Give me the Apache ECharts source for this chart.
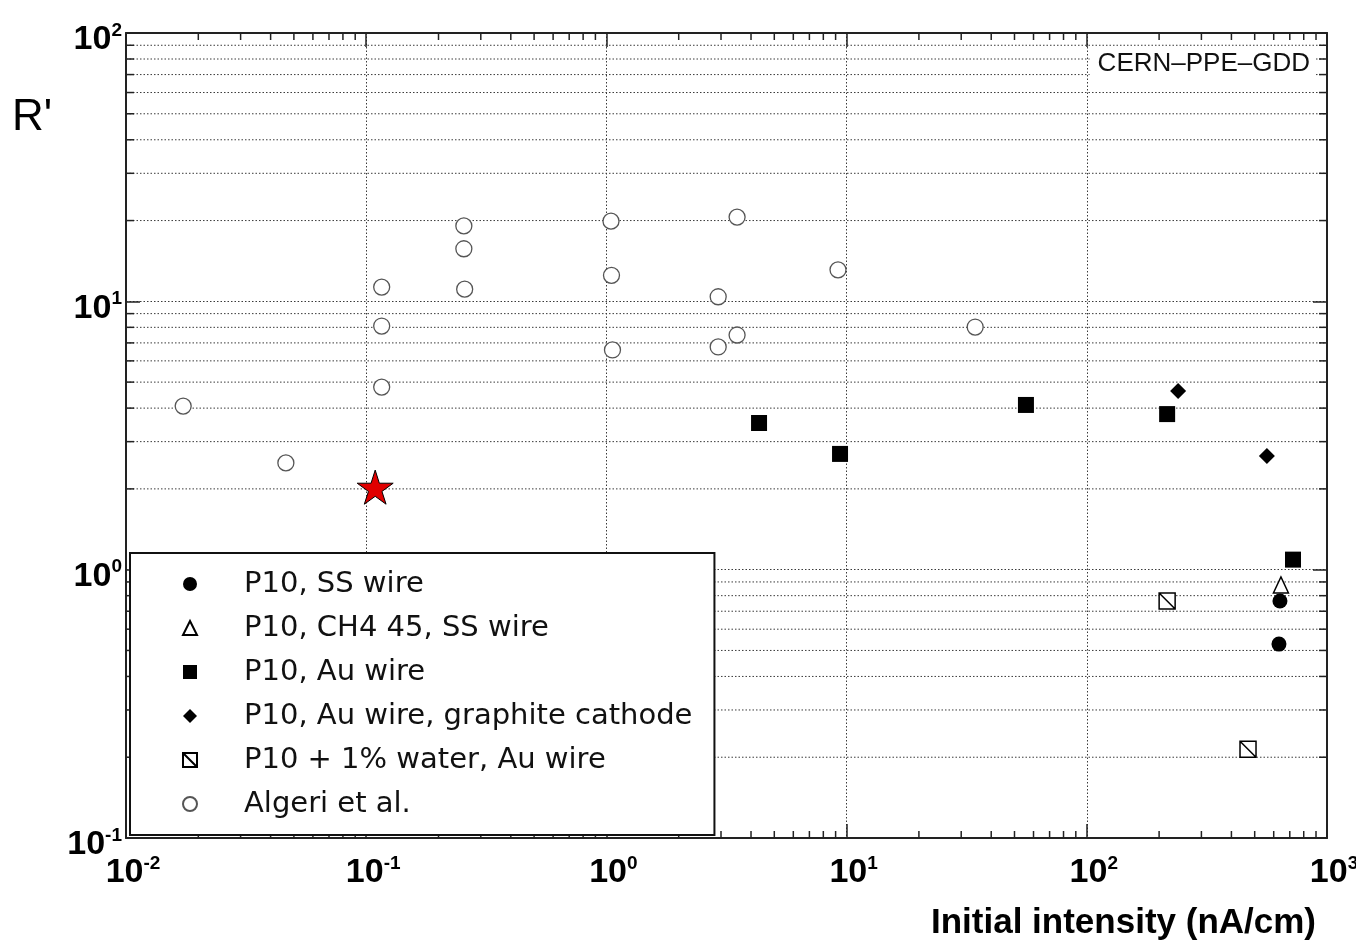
<!DOCTYPE html>
<html>
<head>
<meta charset="utf-8">
<script src="https://cdn.jsdelivr.net/npm/echarts@6/dist/echarts.min.js"></script>
<style>
  html, body { margin: 0; padding: 0; background: #fff; }
  #chart { width: 1356px; height: 943px; }
</style>
</head>
<body>
<div id="chart"></div>
<script>
// values: [initial intensity (nA/cm), R']
var ssWire = [[637, 0.764], [631, 0.528]];
var ch4Wire = [[643, 0.877]];
var auWire = [[4.32, 3.52], [9.39, 2.70], [55.8, 4.11], [216, 3.80], [722, 1.09]];
var graphiteCathode = [[240, 4.63], [562, 2.65]];
var waterAu = [[216, 0.764], [469, 0.214]];
var algeri = [
  [0.0173, 4.07], [0.0463, 2.50],
  [0.116, 11.3], [0.116, 8.09], [0.116, 4.79],
  [0.255, 19.1], [0.255, 15.7], [0.257, 11.1],
  [1.045, 19.9], [1.05, 12.5], [1.06, 6.59],
  [2.92, 10.4], [2.92, 6.76], [3.50, 20.6], [3.50, 7.49],
  [9.21, 13.1], [34.3, 8.02]
];
var starPoint = [[0.109, 2.03]];

var seriesNames = [
  'P10, SS wire',
  'P10, CH4 45, SS wire',
  'P10, Au wire',
  'P10, Au wire, graphite cathode',
  'P10 + 1% water, Au wire',
  'Algeri et al.'
];

// axis ranges and minor (2..9) tick values of each decade
var X_MIN = 0.01, X_MAX = 1000;
var Y_MIN = 0.1, Y_MAX = 100;
var xMinor = [
  0.02, 0.03, 0.04, 0.05, 0.06, 0.07, 0.08, 0.09,
  0.2, 0.3, 0.4, 0.5, 0.6, 0.7, 0.8, 0.9,
  2, 3, 4, 5, 6, 7, 8, 9,
  20, 30, 40, 50, 60, 70, 80, 90,
  200, 300, 400, 500, 600, 700, 800, 900
];
var yMinor = [
  0.2, 0.3, 0.4, 0.5, 0.6, 0.7, 0.8, 0.9,
  2, 3, 4, 5, 6, 7, 8, 9,
  20, 30, 40, 50, 60, 70, 80, 90
];

var chart = echarts.init(document.getElementById('chart'));

var gridColor = '#3a3a3a';
var gridDash = [1.5, 2];
var axisColor = '#222';
var labelRich = {
  b: { fontFamily: 'Liberation Sans', fontWeight: 'bold', fontSize: 34, lineHeight: 38, color: '#000' },
  s: { fontFamily: 'Liberation Sans', fontWeight: 'bold', fontSize: 19, lineHeight: 19, verticalAlign: 'top', color: '#000' }
};
function powLabel(v) {
  var e = Math.round(Math.log10(v));
  return '{b|10}{s|' + e + '}';
}

function logAxis(pos, min, max, withLabel, withSplit) {
  return {
    type: 'log',
    logBase: 10,
    position: pos,
    min: min,
    max: max,
    axisLine: { show: true, lineStyle: { color: axisColor, width: 2 } },
    axisTick: { show: true, inside: true, length: 14, lineStyle: { color: axisColor, width: 1.5 } },
    axisLabel: withLabel ? {
      show: true,
      formatter: powLabel,
      rich: labelRich,
      margin: pos === 'left' ? 4 : 16,
      padding: pos === 'left' ? [14, 0, 0, 0] : [0, 0, 0, 14]
    } : { show: false },
    splitLine: { show: withSplit, lineStyle: { color: gridColor, type: gridDash, width: 1 } }
  };
}

// minor grid lines and minor ticks, placed through the axes' own scales
function minorYItem(params, api) {
  var v = api.value(1);
  var p0 = api.coord([X_MIN, v]);
  var p1 = api.coord([X_MAX, v]);
  return {
    type: 'group',
    children: [
      { type: 'line', shape: { x1: p0[0], y1: p0[1], x2: p1[0], y2: p1[1] },
        style: { stroke: gridColor, lineDash: gridDash, lineWidth: 1 } },
      { type: 'line', shape: { x1: p0[0], y1: p0[1], x2: p0[0] + 8, y2: p0[1] },
        style: { stroke: axisColor, lineWidth: 1.5 } },
      { type: 'line', shape: { x1: p1[0], y1: p1[1], x2: p1[0] - 8, y2: p1[1] },
        style: { stroke: axisColor, lineWidth: 1.5 } }
    ]
  };
}
function minorXItem(params, api) {
  var v = api.value(0);
  var p0 = api.coord([v, Y_MIN]);
  var p1 = api.coord([v, Y_MAX]);
  return {
    type: 'group',
    children: [
      { type: 'line', shape: { x1: p0[0], y1: p0[1], x2: p0[0], y2: p0[1] - 7 },
        style: { stroke: axisColor, lineWidth: 1.5 } },
      { type: 'line', shape: { x1: p1[0], y1: p1[1], x2: p1[0], y2: p1[1] + 7 },
        style: { stroke: axisColor, lineWidth: 1.5 } }
    ]
  };
}

var option = {
  animation: false,
  backgroundColor: '#fff',
  title: [
    {
      text: "R'", left: 12, top: 96, padding: 0,
      textStyle: { fontFamily: 'Liberation Sans', fontSize: 44, fontWeight: 'normal', color: '#000' }
    },
    {
      text: 'Initial intensity (nA/cm)', right: 40, top: 906, padding: 0,
      textStyle: { fontFamily: 'Liberation Sans', fontSize: 35, fontWeight: 'bold', color: '#000' }
    },
    {
      text: 'CERN\u2013PPE\u2013GDD', right: 40, top: 48, padding: [3, 6, 3, 8],
      backgroundColor: '#fff',
      textStyle: { fontFamily: 'Liberation Sans', fontSize: 26, fontWeight: 'normal', color: '#111' }
    }
  ],
  grid: { left: 126, right: 29, top: 33, bottom: 105, outerBoundsMode: 'none' },
  legend: {
    data: seriesNames,
    orient: 'vertical',
    left: 130,
    top: 553,
    padding: [14, 22, 14, 52],
    itemWidth: 14,
    itemHeight: 14,
    itemGap: 10,
    backgroundColor: '#fff',
    borderColor: '#111',
    borderWidth: 2,
    borderRadius: 0,
    selectedMode: false,
    textStyle: { fontFamily: 'DejaVu Sans', fontSize: 29, lineHeight: 34, color: '#111', padding: [0, 0, 0, 42] }
  },
  xAxis: [
    logAxis('bottom', X_MIN, X_MAX, true, true),
    logAxis('top', X_MIN, X_MAX, false, false)
  ],
  yAxis: [
    logAxis('left', Y_MIN, Y_MAX, true, true),
    logAxis('right', Y_MIN, Y_MAX, false, false)
  ],
  series: [
    {
      name: 'minorY', type: 'custom', silent: true, z: 1,
      renderItem: minorYItem,
      data: yMinor.map(function (v) { return [X_MIN, v]; })
    },
    {
      name: 'minorX', type: 'custom', silent: true, z: 1,
      renderItem: minorXItem,
      data: xMinor.map(function (v) { return [v, Y_MIN]; })
    },
    {
      name: seriesNames[0], type: 'scatter', symbol: 'circle', symbolSize: 15,
      itemStyle: { color: '#000', opacity: 1 },
      data: ssWire
    },
    {
      name: seriesNames[1], type: 'scatter', symbol: 'triangle', symbolSize: [15, 16],
      itemStyle: { color: '#fff', borderColor: '#000', borderWidth: 1.5, opacity: 1 },
      data: ch4Wire
    },
    {
      name: seriesNames[2], type: 'scatter', symbol: 'rect', symbolSize: 16,
      itemStyle: { color: '#000', opacity: 1 },
      data: auWire
    },
    {
      name: seriesNames[3], type: 'scatter', symbol: 'diamond', symbolSize: 16,
      itemStyle: { color: '#000', opacity: 1 },
      data: graphiteCathode
    },
    {
      name: seriesNames[4], type: 'scatter',
      symbol: 'path://M0,0L20,0L20,20L0,20ZM0,0L20,20', symbolSize: 16,
      itemStyle: { color: '#fff', borderColor: '#000', borderWidth: 1.5, opacity: 1 },
      data: waterAu
    },
    {
      name: seriesNames[5], type: 'scatter', symbol: 'circle', symbolSize: 16,
      itemStyle: { color: '#fff', borderColor: '#555', borderWidth: 1.3, opacity: 1 },
      data: algeri
    },
    {
      name: 'star', type: 'scatter',
      symbol: 'path://M50,0L61,35L98,35L68,57L79,91L50,70L21,91L32,57L2,35L39,35Z',
      symbolSize: 36, symbolKeepAspect: true,
      itemStyle: { color: '#e00000', borderColor: '#000', borderWidth: 1, opacity: 1 },
      data: starPoint
    }
  ]
};

chart.setOption(option);
</script>
</body>
</html>
